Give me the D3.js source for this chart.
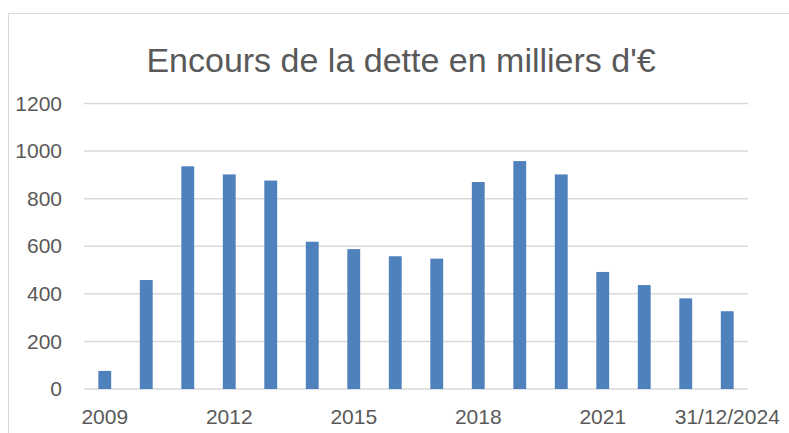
<!DOCTYPE html>
<html>
<head>
<meta charset="utf-8">
<script src="https://cdn.jsdelivr.net/npm/d3@7"></script>
<style>
  body { margin: 0; background: #fff; }
  text { font-family: "Liberation Sans", Arial, sans-serif; fill: #595959; }
</style>
</head>
<body>
<div id="chart"></div>
<script>
const WIDTH = 789;
const HEIGHT = 433;
const MARGINS = {left: 84, right: 41, top: 103.5, bottom: 44};
const VIS_WIDTH = WIDTH - MARGINS.left - MARGINS.right;
const VIS_HEIGHT = HEIGHT - MARGINS.top - MARGINS.bottom;

// data
const categories = ["2009", "2010", "2011", "2012", "2013", "2014", "2015", "2016",
  "2017", "2018", "2019", "2020", "2021", "2022", "2023", "31/12/2024"];
const encours = [76, 458, 936, 902, 876, 619, 588, 558, 548, 870, 958, 902, 492, 437, 381, 327];
const yTicks = [0, 200, 400, 600, 800, 1000, 1200];
const shownLabels = ["2009", "2012", "2015", "2018", "2021", "31/12/2024"];
const title = "Encours de la dette en milliers d'€";

let svg = d3.select("#chart")
  .append("svg")
    .attr("width", WIDTH)
    .attr("height", HEIGHT);

// chart area border (only top/left visible in the crop)
svg.append("rect")
  .attr("x", 8.5)
  .attr("y", 13.5)
  .attr("width", 800)
  .attr("height", 500)
  .attr("fill", "none")
  .attr("stroke", "#d9d9d9")
  .attr("stroke-width", 1);

svg.append("text")
  .attr("x", 401)
  .attr("y", 72)
  .attr("text-anchor", "middle")
  .attr("font-size", 34)
  .text(title);

let g = svg.append("g")
  .attr("transform", "translate(" + MARGINS.left + "," + MARGINS.top + ")");

let x = d3.scaleBand()
  .domain(categories)
  .range([0, VIS_WIDTH])
  .paddingInner(0.69)
  .paddingOuter(0.345);

let y = d3.scaleLinear()
  .domain([0, 1200])
  .range([VIS_HEIGHT, 0]);

// gridlines
g.append("g")
  .selectAll("line")
  .data(yTicks)
  .enter()
  .append("line")
    .attr("x1", 0)
    .attr("x2", VIS_WIDTH)
    .attr("y1", d => y(d))
    .attr("y2", d => y(d))
    .attr("stroke", "#d9d9d9")
    .attr("stroke-width", 1.5);

// y axis
let yAxis = g.append("g")
  .call(d3.axisLeft(y).tickValues(yTicks).tickFormat(d3.format("d")).tickSize(0).tickPadding(22));
yAxis.select(".domain").remove();
yAxis.selectAll("text")
  .attr("font-size", 21)
  .attr("fill", "#595959")
  .style("font-family", "Liberation Sans, Arial, sans-serif");

// bars
g.selectAll(".bar")
  .data(encours)
  .enter()
  .append("rect")
    .attr("class", "bar")
    .attr("x", (d, i) => x(categories[i]))
    .attr("y", d => y(d))
    .attr("width", x.bandwidth())
    .attr("height", d => VIS_HEIGHT - y(d))
    .attr("fill", "#4f81bd");

// x axis
let xAxis = g.append("g")
  .attr("transform", "translate(0," + VIS_HEIGHT + ")")
  .call(d3.axisBottom(x)
    .tickValues(shownLabels)
    .tickSize(0)
    .tickPadding(20));
xAxis.select(".domain").remove();
xAxis.selectAll("text")
  .attr("font-size", 21)
  .attr("fill", "#595959")
  .style("font-family", "Liberation Sans, Arial, sans-serif");
</script>
</body>
</html>
